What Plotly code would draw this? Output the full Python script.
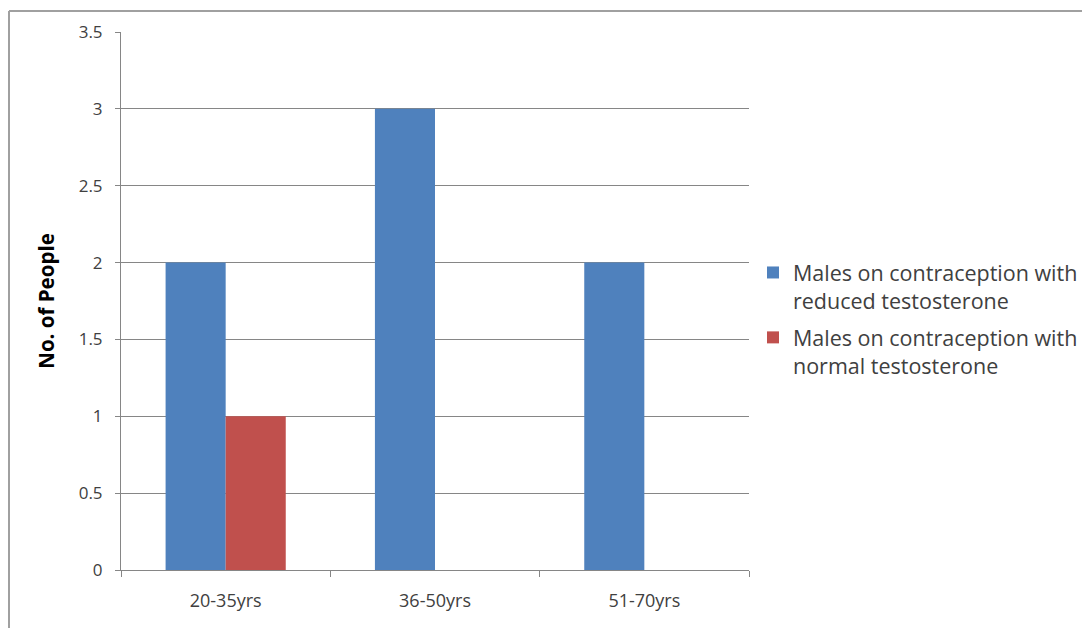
import plotly.graph_objects as go

categories = ["20-35yrs", "36-50yrs", "51-70yrs"]
reduced = [2, 3, 2]
normal = [1, 0, 0]
series_names = ["Males on contraception with<br>reduced testosterone",
                "Males on contraception with<br>normal testosterone"]
y_ticks = [0, 0.5, 1, 1.5, 2, 2.5, 3, 3.5]
y_labels = ["0", "0.5", "1", "1.5", "2", "2.5", "3", "3.5"]

W, H = 1090, 628
OFF = 8  # page body margin offset
L, R, T, B = 121 - OFF, 749 - OFF, 32 - OFF, 570 - OFF

fig = go.Figure()
fig.add_trace(go.Bar(x=categories, y=reduced, name=series_names[0],
                     legendgroup="a",
                     marker=dict(color="#4F81BD", line=dict(width=0))))
fig.add_trace(go.Bar(x=categories, y=normal, name=series_names[1],
                     legendgroup="b",
                     marker=dict(color="#C0504D", line=dict(width=0))))

font = "'Open Sans', sans-serif"

def px_x(px):
    return (px - OFF - L) / (R - L)

def px_y(py):
    return (B - (py - OFF)) / (B - T)

fig.update_layout(
    width=W, height=H,
    margin=dict(l=L, r=W - R, t=T, b=H - B, pad=0),
    paper_bgcolor="white", plot_bgcolor="white",
    barmode="group", bargap=0.426, bargroupgap=0,
    font=dict(family=font, color="#404040", size=16),
    showlegend=True,
    legend=dict(x=px_x(753), y=px_y(252), xanchor="left", yanchor="top",
                font=dict(family=font, size=21.5, color="#404040"),
                traceorder="grouped", tracegroupgap=6, valign="top",
                itemwidth=30, bgcolor="rgba(0,0,0,0)"),
    xaxis=dict(showgrid=False, showline=True, linecolor="#868686", linewidth=1,
               ticks="outside", tickson="boundaries", ticklen=6, tickcolor="#868686",
               tickfont=dict(size=18, color="#404040"), ticklabelstandoff=14),
    yaxis=dict(range=[0, 3.5], tickvals=y_ticks, ticktext=y_labels,
               showgrid=True, gridcolor="#868686", gridwidth=1,
               showline=True, linecolor="#868686", linewidth=1,
               ticks="outside", ticklen=5, tickcolor="#868686",
               tickfont=dict(size=17, color="#404040"), ticklabelstandoff=9,
               zeroline=False,
               title=dict(text="<b>No. of People</b>",
                          font=dict(family=font, size=20.5, color="#000000"),
                          standoff=18)),
    shapes=[
        dict(type="line", xref="paper", yref="paper", x0=px_x(9), x1=px_x(9),
             y0=px_y(11), y1=px_y(660), line=dict(color="#a0a0a0", width=2)),
        dict(type="line", xref="paper", yref="paper", x0=px_x(9), x1=px_x(1120),
             y0=px_y(11), y1=px_y(11), line=dict(color="#a0a0a0", width=2)),
    ],
)

fig.write_html("out.html")
